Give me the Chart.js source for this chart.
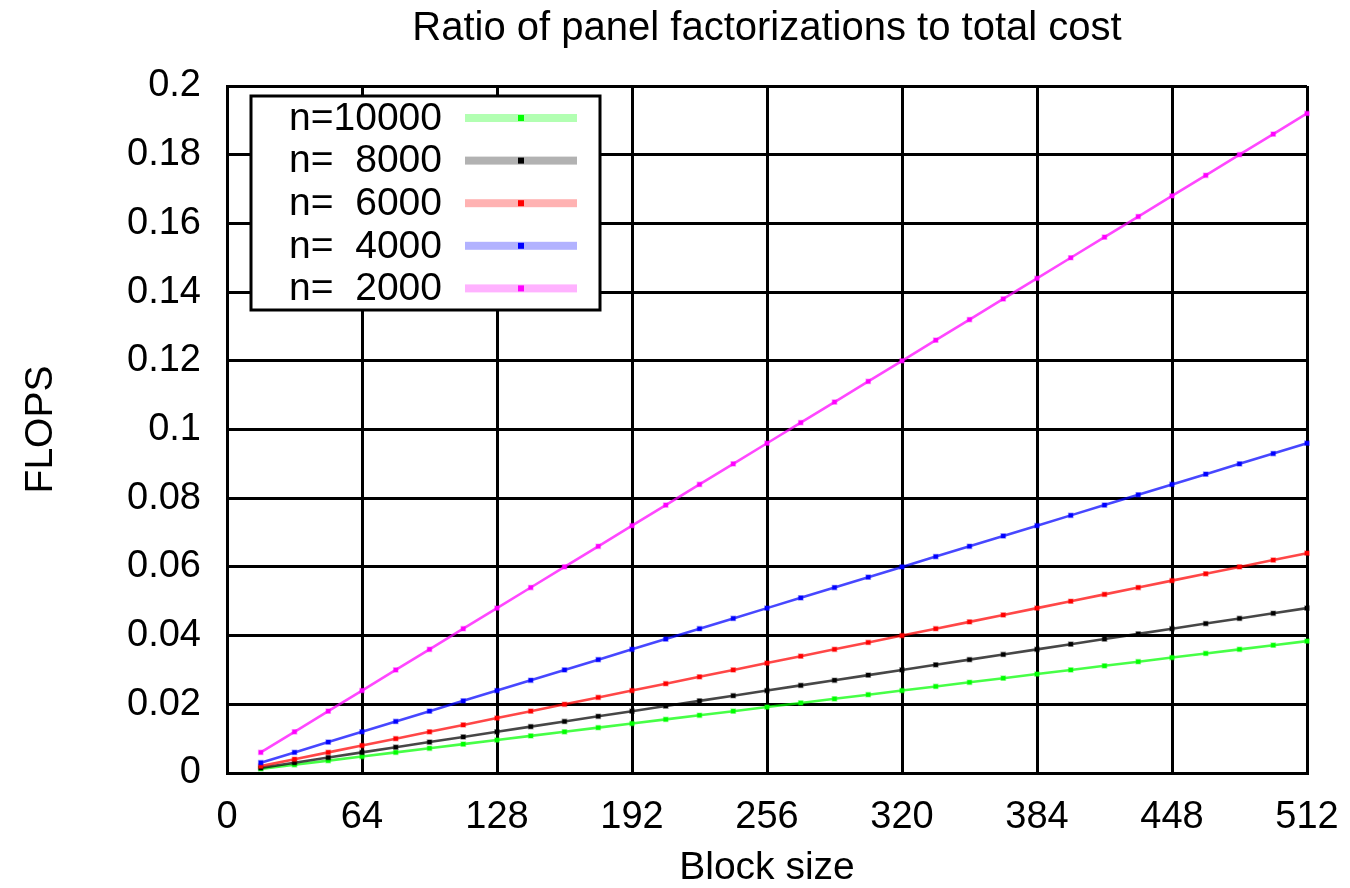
<!DOCTYPE html>
<html>
<head>
<meta charset="utf-8">
<script src="https://cdn.jsdelivr.net/npm/chart.js@4/dist/chart.umd.min.js"></script>
<style>
  html, body { margin: 0; padding: 0; background: #ffffff; }
  #wrap { width: 1350px; height: 888px; }
</style>
</head>
<body>
<div id="wrap"><canvas id="c" width="1350" height="888"></canvas></div>
<script>
// Block sizes (x axis)
const blockSizes = [16, 32, 48, 64, 80, 96, 112, 128, 144, 160, 176, 192, 208, 224, 240, 256,
                    272, 288, 304, 320, 336, 352, 368, 384, 400, 416, 432, 448, 464, 480, 496, 512];

// Ratio of panel factorization flops to total flops, per matrix size
const n10000 = [0.0012, 0.0024, 0.0036, 0.0048, 0.0060, 0.0072, 0.0084, 0.0096, 0.0108, 0.0120, 0.0132,
                0.0144, 0.0156, 0.0168, 0.0180, 0.0192, 0.0204, 0.0216, 0.0228, 0.0240, 0.0252, 0.0264,
                0.0276, 0.0288, 0.0300, 0.0312, 0.0324, 0.0336, 0.0348, 0.0360, 0.0372, 0.0384];
const n8000 = [0.0015, 0.0030, 0.0045, 0.0060, 0.0075, 0.0090, 0.0105, 0.0120, 0.0135, 0.0150, 0.0165,
               0.0180, 0.0195, 0.0210, 0.0225, 0.0240, 0.0255, 0.0270, 0.0285, 0.0300, 0.0315, 0.0330,
               0.0345, 0.0360, 0.0375, 0.0390, 0.0405, 0.0420, 0.0435, 0.0450, 0.0465, 0.0480];
const n6000 = [0.002, 0.004, 0.006, 0.008, 0.010, 0.012, 0.014, 0.016, 0.018, 0.020, 0.022,
               0.024, 0.026, 0.028, 0.030, 0.032, 0.034, 0.036, 0.038, 0.040, 0.042, 0.044,
               0.046, 0.048, 0.050, 0.052, 0.054, 0.056, 0.058, 0.060, 0.062, 0.064];
const n4000 = [0.003, 0.006, 0.009, 0.012, 0.015, 0.018, 0.021, 0.024, 0.027, 0.030, 0.033,
               0.036, 0.039, 0.042, 0.045, 0.048, 0.051, 0.054, 0.057, 0.060, 0.063, 0.066,
               0.069, 0.072, 0.075, 0.078, 0.081, 0.084, 0.087, 0.090, 0.093, 0.096];
const n2000 = [0.006, 0.012, 0.018, 0.024, 0.030, 0.036, 0.042, 0.048, 0.054, 0.060, 0.066,
               0.072, 0.078, 0.084, 0.090, 0.096, 0.102, 0.108, 0.114, 0.120, 0.126, 0.132,
               0.138, 0.144, 0.150, 0.156, 0.162, 0.168, 0.174, 0.180, 0.186, 0.192];

const seriesLabels = ['n=10000', 'n=  8000', 'n=  6000', 'n=  4000', 'n=  2000'];
const seriesValues = [n10000, n8000, n6000, n4000, n2000];
const seriesRGB = ['0,255,0', '0,0,0', '255,0,0', '0,0,255', '255,0,255'];

const xTicks = [0, 64, 128, 192, 256, 320, 384, 448, 512];
const yTicks = [0, 0.02, 0.04, 0.06, 0.08, 0.1, 0.12, 0.14, 0.16, 0.18, 0.2];

const FONT = '"Liberation Sans", Arial, Helvetica, sans-serif';

function toPoints(vals) {
  return vals.map((v, i) => ({ x: blockSizes[i], y: v }));
}

const datasets = seriesValues.map((vals, i) => ({
  label: seriesLabels[i],
  data: toPoints(vals),
  borderColor: 'rgba(' + seriesRGB[i] + ',0.72)',
  backgroundColor: 'rgb(' + seriesRGB[i] + ')',
  pointBackgroundColor: 'rgb(' + seriesRGB[i] + ')',
  pointBorderColor: 'rgba(' + seriesRGB[i] + ',0.35)',
  borderWidth: 2.6,
  pointStyle: 'rect',
  pointRadius: 3,
  pointBorderWidth: 1.5,
  clip: false,
  order: 5 - i
}));

// Boxed key drawn inside the upper-left part of the plot area
const keyBox = {
  id: 'keyBox',
  afterDatasetsDraw(chart) {
    const ctx = chart.ctx;
    const x0 = 251, y0 = 96, x1 = 600, y1 = 310;
    ctx.save();
    ctx.fillStyle = '#ffffff';
    ctx.fillRect(x0, y0, x1 - x0, y1 - y0);
    ctx.lineWidth = 3;
    ctx.strokeStyle = '#000000';
    ctx.strokeRect(x0, y0, x1 - x0, y1 - y0);
    ctx.font = '39px ' + FONT;
    ctx.textAlign = 'right';
    ctx.textBaseline = 'middle';
    chart.data.datasets.forEach((ds, i) => {
      const y = 118 + i * 42.6;
      ctx.fillStyle = '#000000';
      ctx.fillText(ds.label, 442, y + 1);
      ctx.fillStyle = 'rgba(' + seriesRGB[i] + ',0.3)';
      ctx.fillRect(465, y - 4, 112, 8);
      ctx.fillStyle = 'rgb(' + seriesRGB[i] + ')';
      ctx.fillRect(518, y - 3, 6, 6);
    });
    ctx.restore();
  }
};

new Chart(document.getElementById('c'), {
  type: 'line',
  data: { datasets },
  plugins: [keyBox],
  options: {
    responsive: false,
    animation: false,
    events: [],
    layout: { padding: { left: 0, right: 43, top: 0, bottom: 0 } },
    plugins: {
      legend: { display: false },
      tooltip: { enabled: false },
      title: {
        display: true,
        fullSize: false,
        text: 'Ratio of panel factorizations to total cost',
        color: '#000000',
        font: { family: FONT, size: 40, weight: 'normal' },
        padding: { top: 5, bottom: 33 }
      }
    },
    scales: {
      x: {
        type: 'linear',
        min: 0,
        max: 512,
        afterBuildTicks(scale) { scale.ticks = xTicks.map(v => ({ value: v })); },
        afterFit(scale) {
          scale.height = 115;
          scale.paddingLeft = 0;
          scale.paddingRight = 0;
        },
        ticks: {
          color: '#000000',
          font: { family: FONT, size: 38 },
          padding: 22,
          maxRotation: 0,
          autoSkip: false
        },
        grid: { color: '#000000', lineWidth: 3, drawTicks: false },
        border: { color: '#000000', width: 3 },
        title: {
          display: true,
          text: 'Block size',
          color: '#000000',
          font: { family: FONT, size: 39, lineHeight: 1.0 },
          padding: { top: 0, bottom: 0 }
        }
      },
      y: {
        type: 'linear',
        min: 0,
        max: 0.2,
        afterBuildTicks(scale) { scale.ticks = yTicks.map(v => ({ value: v })); },
        afterFit(scale) { scale.width = 227; },
        ticks: {
          color: '#000000',
          font: { family: FONT, size: 38 },
          padding: 26,
          callback: v => String(Math.round(v * 100) / 100)
        },
        grid: { color: '#000000', lineWidth: 3, drawTicks: false },
        border: { color: '#000000', width: 3 },
        title: {
          display: true,
          text: 'FLOPS',
          color: '#000000',
          font: { family: FONT, size: 39 },
          padding: { top: 18, bottom: 0 }
        }
      }
    }
  }
});
</script>
</body>
</html>
